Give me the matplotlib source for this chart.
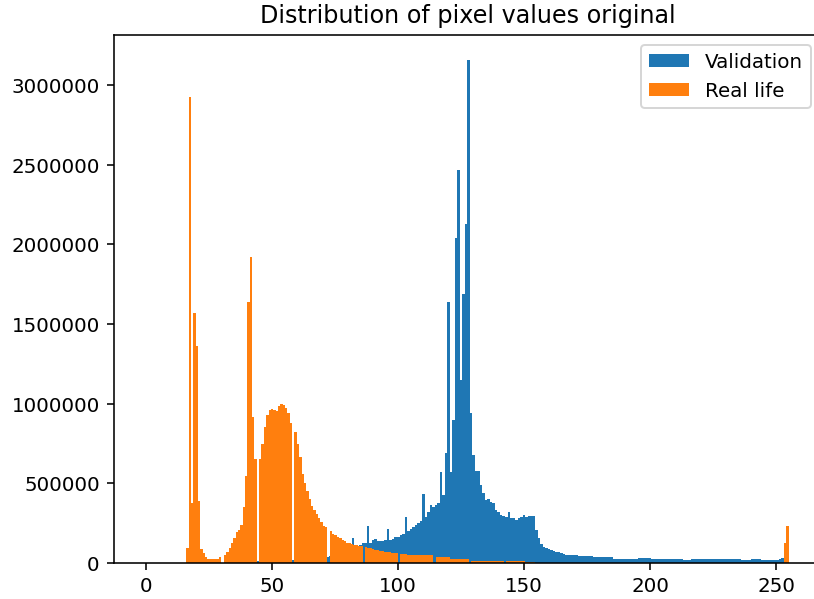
import numpy as np
import matplotlib
matplotlib.use("Agg")
import matplotlib.pyplot as plt

# pixel value histograms (counts in thousands)
val_pixels = np.arange(0, 256)
val_counts = [
    0, 0, 0, 0, 0, 0, 0, 0, 0, 0,
    0, 0, 0, 0, 0, 0, 0, 0, 0, 0,
    0, 0, 0, 0, 0, 0, 0, 0, 0, 0,
    0, 0, 0, 0, 0, 0, 1, 2, 3, 4,
    5, 6, 7, 9, 10, 11, 12, 13, 13, 14,
    15, 15, 16, 17, 17, 18, 19, 20, 20, 21,
    23, 25, 26, 27, 28, 30, 31, 32, 34, 35,
    37, 38, 40, 45, 50, 55, 60, 65, 70, 75,
    85, 95, 159, 100, 105, 110, 123, 123, 234, 128,
    144, 150, 140, 140, 140, 142, 214, 144, 150, 161,
    165, 176, 180, 287, 200, 215, 228, 240, 253, 266,
    433, 287, 322, 364, 354, 364, 375, 574, 427, 689,
    1640, 574, 898, 2040, 2470, 1150, 1690, 2130, 3160, 940,
    678, 580, 580, 490, 437, 396, 400, 380, 378, 335,
    322, 300, 295, 290, 322, 280, 280, 270, 280, 290,
    300, 290, 295, 293, 293, 207, 155, 119, 103, 92,
    88, 82, 78, 71, 68, 61, 58, 52, 52, 52,
    52, 50, 44, 44, 44, 44, 44, 44, 36, 36,
    36, 36, 36, 36, 36, 36, 25, 25, 25, 25,
    25, 25, 25, 25, 25, 25, 34, 34, 34, 34,
    34, 25, 25, 25, 25, 25, 25, 25, 25, 25,
    25, 25, 25, 25, 17, 17, 17, 25, 25, 25,
    25, 25, 25, 25, 25, 25, 25, 25, 25, 25,
    25, 25, 25, 25, 25, 25, 25, 17, 17, 17,
    17, 25, 25, 25, 25, 17, 17, 17, 17, 17,
    17, 20, 25, 29, 20, 5,
]

real_pixels = np.arange(16, 256)
real_counts = [
    92, 2925, 375, 1570,
    1360, 392, 86, 61, 36, 25, 23, 22, 22, 25,
    36, 50, 71, 92, 124, 157, 193, 207, 239, 354,
    547, 1640, 1920, 915, 653, 653, 745, 856, 930, 960,
    965, 960, 955, 985, 1000, 995, 975, 940, 880, 825,
    750, 664, 560, 500, 455, 400, 360, 335, 305, 285,
    255, 235, 225, 203, 185, 175, 165, 155, 145, 135,
    128, 124, 120, 115, 110, 107, 105, 103, 97, 92,
    85, 82, 79, 76, 73, 70, 68, 66, 64, 62,
    60, 56, 55, 54, 53, 52, 51, 50, 50, 50,
    49, 49, 48, 48, 47, 40, 39, 38, 37, 36,
    36, 28, 27, 26, 25, 25, 24, 24, 23, 15,
    15, 15, 15, 15, 15, 15, 15, 15, 15, 15,
    15, 15, 15, 13, 13, 13, 13, 12, 12, 12,
    10, 3, 3, 3, 3, 2, 2, 2, 2, 2,
    1, 1, 1, 1, 1, 1, 1, 1, 1, 1,
    1, 1, 1, 1, 1, 1, 1, 1, 1, 1,
    1, 1, 1, 1, 1, 1, 1, 1, 1, 1,
    1, 1, 1, 1, 1, 1, 1, 1, 1, 1,
    1, 1, 1, 1, 1, 1, 1, 1, 1, 1,
    1, 1, 1, 1, 1, 1, 1, 1, 1, 1,
    1, 1, 1, 1, 1, 1, 1, 1, 1, 1,
    1, 1, 1, 1, 1, 1, 1, 1, 1, 1,
    1, 1, 1, 1, 1, 1, 1, 1, 1, 1,
    1, 1, 1, 1,
    124, 232,
]

dpi = 143
fig = plt.figure(figsize=(814.4 / dpi, 599.4 / dpi), dpi=dpi)
# axes run a little past the right edge, like the cropped original
ax = fig.add_axes([113.6 / 814, 36 / 599, 707 / 814, 528 / 599])

ax.hist(val_pixels, bins=256, weights=np.array(val_counts) * 1000, label="Validation")
ax.hist(real_pixels, bins=256, weights=np.array(real_counts) * 1000, label="Real life")
ax.ticklabel_format(axis="y", style="plain")
ax.set_title("Distribution of pixel values original")
ax.legend()

fig.savefig("out.png", dpi=dpi)
